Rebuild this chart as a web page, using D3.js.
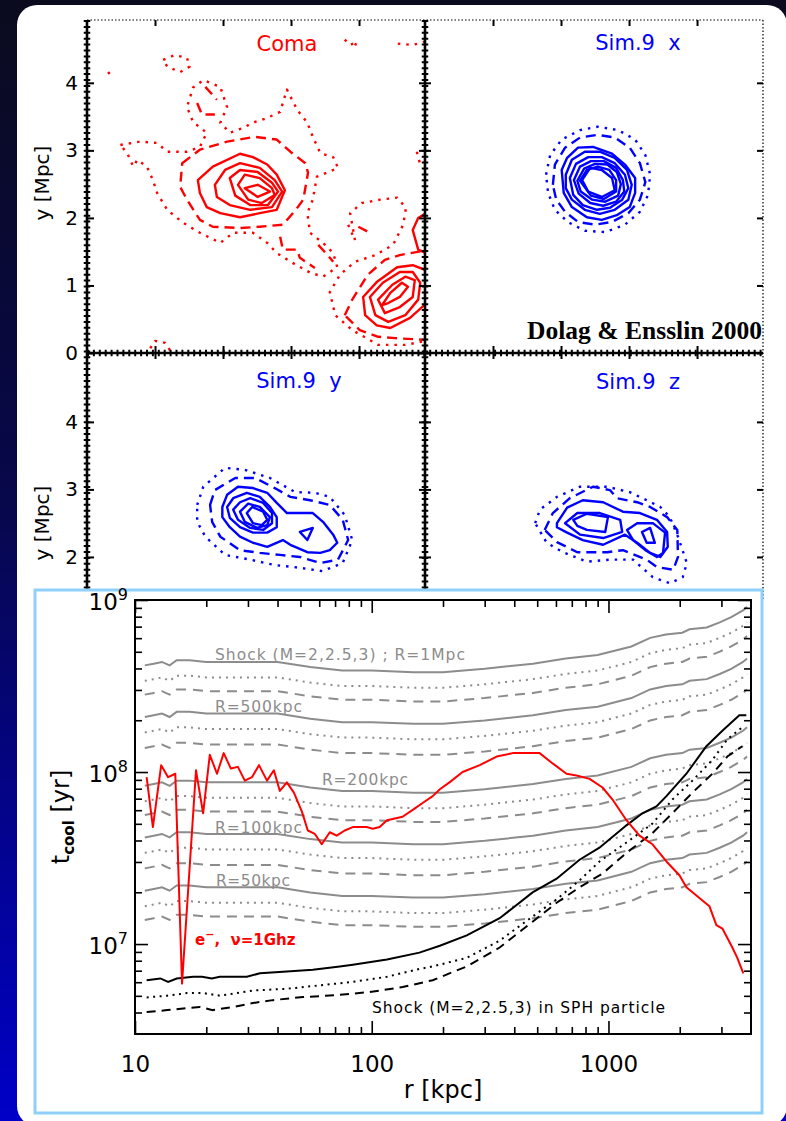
<!DOCTYPE html>
<html>
<head>
<meta charset="utf-8">
<title>Coma radio halo - cooling times</title>
<script src="https://d3js.org/d3.v7.min.js"></script>
<style>
  body { margin: 0; background: #000; }
  svg { display: block; font-family: "DejaVu Sans", sans-serif; }
</style>
</head>
<body>
<div id="chart"></div>
<script>
// ---------- contour maps, vertices in Mpc ----------
var comaSolid = [
  [[1.63,2.56],[1.85,2.76],[2.25,2.95],[2.44,2.90],[2.65,2.79],[2.79,2.64],[2.91,2.41],[2.79,2.12],[2.54,2.07],[2.25,2.01],[1.96,2.07],[1.76,2.16],[1.66,2.37]],
  [[1.88,2.49],[2.03,2.71],[2.25,2.81],[2.54,2.74],[2.76,2.56],[2.87,2.39],[2.72,2.16],[2.40,2.12],[2.10,2.19],[1.91,2.31]],
  [[2.10,2.59],[2.25,2.71],[2.51,2.68],[2.72,2.52],[2.81,2.39],[2.66,2.19],[2.40,2.19],[2.18,2.33]],
  [[2.22,2.49],[2.32,2.64],[2.54,2.59],[2.72,2.44],[2.76,2.34],[2.57,2.22],[2.37,2.27]],
  [[2.32,2.44],[2.51,2.49],[2.69,2.39],[2.51,2.31]],
  [[4.06,0.83],[4.26,1.05],[4.56,1.27],[4.79,1.30],[5.05,1.20],[5.05,0.79],[4.75,0.52],[4.46,0.37],[4.26,0.41],[4.09,0.56]],
  [[4.16,0.83],[4.35,1.04],[4.60,1.20],[4.79,1.20],[4.90,1.04],[4.87,0.79],[4.68,0.56],[4.43,0.46],[4.24,0.56]],
  [[4.28,0.79],[4.49,1.01],[4.68,1.13],[4.82,1.08],[4.79,0.83],[4.60,0.68],[4.38,0.59]],
  [[4.34,0.71],[4.46,0.89],[4.63,1.04],[4.72,0.98],[4.60,0.83],[4.43,0.74]],
  [[4.79,1.82],[4.87,2.00],[4.97,2.06],[5.05,2.06],[5.05,1.45],[4.87,1.53]]
];
var comaDashed = [
  [[1.40,2.81],[1.66,3.01],[2.06,3.13],[2.47,3.20],[2.79,3.16],[2.99,2.98],[3.21,2.81],[3.25,2.67],[3.18,2.27],[3.07,2.12],[2.88,1.90],[2.54,1.87],[2.25,1.85],[1.85,1.87],[1.66,1.97],[1.47,2.27],[1.37,2.46]],
  [[3.79,0.56],[3.90,0.79],[4.13,1.16],[4.38,1.38],[4.60,1.45],[5.05,1.53],[5.05,0.19],[4.53,0.22],[4.28,0.24],[4.01,0.34]]
];
var comaDashedOpen = [
  [[2.84,1.72],[2.88,1.53],[3.09,1.53],[3.13,1.41],[3.35,1.26]],
  [[3.40,1.60],[3.52,1.47],[3.62,1.35]],
  [[1.62,3.70],[1.69,3.53],[1.88,3.53]],
  [[1.74,3.94],[1.91,3.75]],
  [[3.99,1.87],[4.16,1.78]]
];
var comaDotted = [
  [[0.49,3.08],[0.78,3.13],[1.03,3.11],[1.18,2.98],[1.47,2.98],[1.66,3.05],[1.76,3.26],[1.56,3.42],[1.47,3.64],[1.56,3.93],[1.71,4.04],[1.96,3.94],[2.06,3.64],[1.96,3.41],[2.10,3.26],[2.29,3.33],[2.44,3.41],[2.65,3.48],[2.84,3.57],[2.94,3.90],[3.09,3.60],[3.24,3.41],[3.32,3.20],[3.43,2.96],[3.62,2.90],[3.69,2.74],[3.53,2.67],[3.38,2.61],[3.32,2.27],[3.24,2.07],[3.28,1.78],[3.47,1.63],[3.62,1.48],[3.68,1.27],[3.47,1.13],[3.28,1.19],[3.03,1.33],[2.79,1.48],[2.65,1.63],[2.44,1.78],[2.15,1.78],[1.96,1.63],[1.66,1.78],[1.41,1.93],[1.18,2.12],[1.03,2.37],[0.97,2.56],[0.88,2.76],[0.74,2.86],[0.68,2.76],[0.59,2.96]],
  [[1.12,4.34],[1.29,4.41],[1.47,4.37],[1.51,4.24],[1.37,4.16],[1.18,4.24]]
];
var comaDottedOpen = [
  [[3.84,1.90],[3.94,1.67],[3.87,2.07],[4.04,2.22],[4.31,2.27],[4.56,2.30],[4.69,2.15],[4.65,1.90],[4.50,1.60],[4.24,1.45],[3.94,1.35],[3.72,1.16],[3.57,0.90],[3.65,0.56],[3.90,0.34],[4.28,0.12],[4.68,0.12],[5.04,0.19]],
  [[3.79,4.64],[3.87,4.56],[3.97,4.61],[3.91,4.49]],
  [[4.57,4.58],[4.79,4.56],[4.97,4.61]],
  [[0.31,4.16],[0.38,4.07]],
  [[0.93,0.07],[1.00,0.18],[1.15,0.15],[1.22,0.04]],
  [[4.85,2.98],[4.90,2.79]]
];

var simXSolid = [
  [[2.01,2.71],[2.09,2.89],[2.25,3.04],[2.47,3.05],[2.75,2.95],[2.94,2.79],[3.09,2.59],[3.09,2.37],[3.01,2.16],[2.82,2.04],[2.60,1.97],[2.38,2.01],[2.16,2.16],[2.04,2.37]],
  [[2.07,2.64],[2.16,2.86],[2.35,2.98],[2.57,2.98],[2.79,2.89],[2.97,2.71],[3.04,2.49],[2.99,2.27],[2.79,2.12],[2.57,2.06],[2.35,2.12],[2.16,2.27],[2.07,2.44]],
  [[2.13,2.59],[2.22,2.80],[2.40,2.90],[2.60,2.90],[2.79,2.81],[2.94,2.64],[2.99,2.44],[2.90,2.27],[2.72,2.15],[2.53,2.12],[2.32,2.19],[2.18,2.34]],
  [[2.19,2.56],[2.28,2.76],[2.44,2.84],[2.63,2.84],[2.81,2.74],[2.91,2.56],[2.93,2.39],[2.81,2.24],[2.62,2.18],[2.43,2.22],[2.26,2.36]],
  [[2.24,2.55],[2.34,2.73],[2.50,2.80],[2.68,2.79],[2.82,2.68],[2.88,2.50],[2.84,2.33],[2.65,2.24],[2.46,2.27],[2.29,2.39]],
  [[2.28,2.55],[2.38,2.71],[2.54,2.76],[2.71,2.71],[2.81,2.56],[2.81,2.39],[2.63,2.28],[2.44,2.33]],
  [[2.31,2.56],[2.43,2.74],[2.60,2.71],[2.75,2.59],[2.79,2.41],[2.60,2.31],[2.40,2.39]]
];
var simXDashed = [
  [[1.88,2.49],[1.91,2.79],[2.06,3.04],[2.28,3.19],[2.54,3.23],[2.79,3.19],[3.01,3.04],[3.16,2.81],[3.24,2.53],[3.16,2.27],[2.99,2.07],[2.75,1.94],[2.50,1.90],[2.25,1.94],[2.06,2.09],[1.93,2.27]]
];
var simXDotted = [
  [[1.78,2.64],[1.84,2.93],[2.01,3.16],[2.28,3.30],[2.54,3.35],[2.84,3.30],[3.09,3.16],[3.24,2.93],[3.31,2.64],[3.28,2.34],[3.16,2.09],[2.94,1.90],[2.65,1.79],[2.35,1.81],[2.10,1.94],[1.91,2.12],[1.81,2.37]]
];

var simYSolid = [
  [[1.99,2.74],[2.06,2.92],[2.22,3.04],[2.44,3.02],[2.65,2.95],[2.79,2.80],[2.94,2.65],[3.13,2.65],[3.32,2.65],[3.47,2.52],[3.62,2.33],[3.68,2.21],[3.57,2.10],[3.43,2.06],[3.24,2.07],[2.99,2.18],[2.88,2.25],[2.65,2.15],[2.44,2.21],[2.25,2.30],[2.10,2.44],[1.99,2.59]],
  [[2.06,2.74],[2.15,2.87],[2.35,2.95],[2.54,2.89],[2.69,2.74],[2.79,2.59],[2.79,2.44],[2.65,2.36],[2.44,2.36],[2.25,2.44],[2.10,2.58]],
  [[2.15,2.70],[2.25,2.81],[2.40,2.87],[2.59,2.80],[2.72,2.65],[2.72,2.50],[2.59,2.40],[2.40,2.43],[2.22,2.55]],
  [[2.25,2.67],[2.37,2.79],[2.54,2.74],[2.69,2.59],[2.65,2.47],[2.50,2.43],[2.32,2.52]],
  [[2.35,2.65],[2.43,2.74],[2.59,2.67],[2.65,2.55],[2.57,2.47],[2.44,2.50]],
  [[3.13,2.37],[3.32,2.43],[3.24,2.25]]
];
var simYDashed = [
  [[1.81,2.77],[1.88,2.99],[2.18,3.17],[2.47,3.17],[2.76,3.02],[2.99,2.89],[3.28,2.84],[3.57,2.77],[3.76,2.55],[3.84,2.25],[3.69,1.96],[3.43,1.91],[3.13,2.00],[2.84,2.03],[2.54,2.06],[2.25,2.10],[1.96,2.30],[1.84,2.52]]
];
var simYDotted = [
  [[1.62,2.77],[1.71,3.04],[2.03,3.32],[2.32,3.29],[2.69,3.17],[3.06,2.96],[3.35,2.95],[3.57,2.89],[3.79,2.62],[3.90,2.25],[3.76,1.91],[3.46,1.79],[3.13,1.84],[2.76,1.88],[2.40,1.96],[2.03,2.03],[1.74,2.30],[1.62,2.52]]
];

var simZSolid = [
  [[1.94,2.50],[2.09,2.73],[2.32,2.84],[2.62,2.81],[2.91,2.67],[3.16,2.65],[3.41,2.55],[3.56,2.37],[3.57,2.15],[3.46,2.00],[3.31,2.06],[3.12,2.21],[2.94,2.33],[2.62,2.18],[2.32,2.25],[2.09,2.36],[1.94,2.44]],
  [[2.06,2.50],[2.24,2.65],[2.57,2.65],[2.87,2.55],[2.90,2.37],[2.62,2.28],[2.28,2.33]],
  [[2.18,2.55],[2.38,2.64],[2.69,2.59],[2.65,2.37],[2.38,2.40],[2.24,2.46]],
  [[2.97,2.40],[3.12,2.50],[3.35,2.50],[3.53,2.36],[3.50,2.06],[3.41,2.00],[3.24,2.10],[3.06,2.25]],
  [[3.19,2.37],[3.31,2.43],[3.38,2.21],[3.26,2.21]]
];
var simZDashed = [
  [[1.76,2.40],[1.88,2.65],[2.13,2.87],[2.47,3.04],[2.72,2.99],[2.82,2.87],[3.12,2.81],[3.31,2.74],[3.56,2.59],[3.71,2.40],[3.72,2.00],[3.65,1.81],[3.41,1.85],[3.26,1.96],[2.91,2.10],[2.68,2.07],[2.24,2.07],[1.94,2.22]]
];
var simZDotted = [
  [[1.62,2.50],[1.69,2.70],[1.94,2.89],[2.28,3.04],[2.68,3.04],[3.01,2.96],[3.26,2.84],[3.46,2.74],[3.60,2.59],[3.72,2.30],[3.85,1.91],[3.79,1.70],[3.60,1.61],[3.35,1.70],[3.06,1.96],[2.72,1.96],[2.38,1.93],[2.03,2.07],[1.79,2.21]]
];

// contour panel tick values and titles
var mapTicks = [0, 1, 2, 3, 4];
var mapTitles = ["Coma", "Sim.9  x", "Sim.9  y", "Sim.9  z"];

// ---------- cooling times : r in kpc, t values are log10(t_cool / yr) ----------
var rShock = [11,12,13,14,15,17,20,25,32,40,55,75,100,150,200,300,480,660,900,1250,1500,1750,2050,2200,2600,2950,3300,3700,3850];
var tR1000_M2  = [8.62,8.63,8.64,8.62,8.65,8.65,8.64,8.64,8.64,8.64,8.61,8.59,8.59,8.58,8.58,8.60,8.63,8.66,8.68,8.73,8.78,8.80,8.81,8.83,8.84,8.87,8.90,8.94,8.96];
var tR1000_M25 = [8.53,8.54,8.55,8.53,8.56,8.56,8.55,8.55,8.55,8.55,8.52,8.50,8.50,8.49,8.49,8.51,8.54,8.57,8.59,8.64,8.69,8.71,8.72,8.74,8.75,8.78,8.81,8.85,8.87];
var tR1000_M3  = [8.45,8.46,8.47,8.45,8.48,8.48,8.47,8.47,8.47,8.47,8.44,8.42,8.42,8.41,8.41,8.43,8.46,8.49,8.51,8.56,8.61,8.63,8.64,8.66,8.67,8.70,8.73,8.77,8.79];
var tR500_M2   = [8.32,8.33,8.34,8.32,8.35,8.35,8.34,8.34,8.34,8.34,8.31,8.29,8.29,8.28,8.28,8.30,8.33,8.36,8.38,8.43,8.48,8.50,8.51,8.53,8.54,8.57,8.60,8.64,8.66];
var tR500_M25  = [8.23,8.24,8.25,8.23,8.26,8.26,8.25,8.25,8.25,8.25,8.22,8.20,8.20,8.19,8.19,8.21,8.24,8.27,8.29,8.34,8.39,8.41,8.42,8.44,8.45,8.48,8.51,8.55,8.57];
var tR500_M3   = [8.14,8.15,8.16,8.14,8.17,8.17,8.16,8.16,8.16,8.16,8.13,8.11,8.11,8.10,8.10,8.12,8.15,8.18,8.20,8.25,8.30,8.32,8.33,8.35,8.36,8.39,8.42,8.46,8.48];
var tR200_M2   = [7.92,7.93,7.94,7.92,7.95,7.95,7.94,7.94,7.94,7.94,7.91,7.89,7.89,7.88,7.88,7.90,7.93,7.96,7.98,8.03,8.08,8.10,8.11,8.13,8.14,8.17,8.20,8.24,8.26];
var tR200_M25  = [7.83,7.84,7.85,7.83,7.86,7.86,7.85,7.85,7.85,7.85,7.82,7.80,7.80,7.79,7.79,7.81,7.84,7.87,7.89,7.94,7.99,8.01,8.02,8.04,8.05,8.08,8.11,8.15,8.17];
var tR200_M3   = [7.75,7.76,7.77,7.75,7.78,7.78,7.77,7.77,7.77,7.77,7.74,7.72,7.72,7.71,7.71,7.73,7.76,7.79,7.81,7.86,7.91,7.93,7.94,7.96,7.97,8.00,8.03,8.07,8.09];
var tR100_M2   = [7.62,7.63,7.64,7.62,7.65,7.65,7.64,7.64,7.64,7.64,7.61,7.59,7.59,7.58,7.58,7.60,7.63,7.66,7.68,7.73,7.78,7.80,7.81,7.83,7.84,7.87,7.90,7.94,7.96];
var tR100_M25  = [7.53,7.54,7.55,7.53,7.56,7.56,7.55,7.55,7.55,7.55,7.52,7.50,7.50,7.49,7.49,7.51,7.54,7.57,7.59,7.64,7.69,7.71,7.72,7.74,7.75,7.78,7.81,7.85,7.87];
var tR100_M3   = [7.44,7.45,7.46,7.44,7.47,7.47,7.46,7.46,7.46,7.46,7.43,7.41,7.41,7.40,7.40,7.42,7.45,7.48,7.50,7.55,7.60,7.62,7.63,7.65,7.66,7.69,7.72,7.76,7.78];
var tR50_M2    = [7.31,7.32,7.33,7.31,7.34,7.34,7.33,7.33,7.33,7.33,7.30,7.28,7.28,7.27,7.27,7.29,7.32,7.35,7.37,7.42,7.47,7.49,7.50,7.52,7.53,7.56,7.59,7.63,7.65];
var tR50_M25   = [7.22,7.23,7.24,7.22,7.25,7.25,7.24,7.24,7.24,7.24,7.21,7.19,7.19,7.18,7.18,7.20,7.23,7.26,7.28,7.33,7.38,7.40,7.41,7.43,7.44,7.47,7.50,7.54,7.56];
var tR50_M3    = [7.14,7.15,7.16,7.14,7.17,7.17,7.16,7.16,7.16,7.16,7.13,7.11,7.11,7.10,7.10,7.12,7.15,7.18,7.20,7.25,7.30,7.32,7.33,7.35,7.36,7.39,7.42,7.46,7.48];

// radio emitting electrons, nu = 1 GHz
var rRadio = [11.2,11.9,12.9,13.8,14.8,15.8,18.1,19.4,20.7,22.2,23.7,25.4,27.2,29.1,31.2,33.4,36.1,38.6,40.9,43.8,46.9,50.7,53.7,57.5,61.5,66.5,71.1,76.9,83.2,95.2,101,108,116,135,149,164,181,194,213,242,286,337,394,451,512,581,665,733,832,944,1040,1191,1352,1534,1757,1994,2134,2669,2856,3028,3336,3501,3712];
var tRadio = [7.97,7.68,8.04,7.97,7.99,6.77,8.01,7.76,8.10,7.99,8.11,8.02,8.03,7.95,7.97,8.04,7.95,8.01,7.89,7.94,7.88,7.77,7.66,7.64,7.58,7.65,7.63,7.66,7.68,7.68,7.67,7.68,7.72,7.74,7.78,7.82,7.86,7.90,7.94,8.00,8.04,8.09,8.11,8.11,8.11,8.05,7.99,7.98,7.96,7.91,7.84,7.72,7.63,7.58,7.48,7.40,7.33,7.22,7.11,7.09,6.98,6.92,6.83];

// shock inside an SPH particle, M = 2, 2.5, 3
var rSphM2  = [11.2,12.8,13.8,15.0,17.6,19.2,21.1,22.8,25.9,29.7,33.7,43.8,56.4,73.3,83.2,116,159,194,252,347,478,604,755,916,1191,1391,1594,1757,2134,2592,3028,3571,3822];
var tSphM2  = [6.79,6.80,6.78,6.80,6.81,6.81,6.80,6.81,6.81,6.81,6.83,6.84,6.85,6.87,6.88,6.91,6.95,6.99,7.05,7.15,7.30,7.38,7.49,7.56,7.69,7.76,7.80,7.86,7.99,8.15,8.24,8.33,8.33];
var rSphM25 = [11.2,13.7,16.6,19.4,22.8,31.5,43.8,60.3,83.2,116,159,181,252,347,478,604,755,916,1191,1534,1862,2262,2748,3177,3675];
var tSphM25 = [6.69,6.70,6.715,6.715,6.70,6.73,6.74,6.76,6.78,6.81,6.855,6.87,6.92,7.02,7.16,7.26,7.37,7.48,7.59,7.70,7.84,7.95,8.07,8.19,8.26];
var rSphM3  = [11.2,13.7,16.6,18.8,21.3,25.9,31.5,38.2,51.2,71.1,98.1,135,181,252,347,478,604,755,944,1191,1534,1862,2262,2748,3177,3675];
var tSphM3  = [6.605,6.616,6.628,6.634,6.616,6.634,6.657,6.674,6.692,6.703,6.721,6.75,6.79,6.87,6.98,7.13,7.24,7.33,7.41,7.53,7.645,7.76,7.88,7.99,8.09,8.15];

// axis ticks of the cooling time plot
var xMajor = [10, 100, 1000];
var xMinor = [20,30,40,50,60,70,80,90,200,300,400,500,600,700,800,900,2000,3000];
var yMajor = [1e7, 1e8, 1e9];
var yMinor = [4e6,5e6,6e6,7e6,8e6,9e6,2e7,3e7,4e7,5e7,6e7,7e7,8e7,9e7,2e8,3e8,4e8,5e8,6e8,7e8,8e8,9e8];

// ================= drawing =================
var W = 786, H = 1121;
var svg = d3.select("#chart").append("svg")
    .attr("width", W)
    .attr("height", H);
var defs = svg.append("defs");

// dark slide background and the white card
var grad = defs.append("linearGradient").attr("id", "bg")
    .attr("x1", 0).attr("y1", 0).attr("x2", 0).attr("y2", 1);
grad.append("stop").attr("offset", "0%").attr("stop-color", "#0b0b1e");
grad.append("stop").attr("offset", "45%").attr("stop-color", "#07074c");
grad.append("stop").attr("offset", "100%").attr("stop-color", "#0000c8");
svg.append("rect").attr("width", W).attr("height", H).attr("fill", "url(#bg)");
svg.append("rect")
    .attr("x", 17).attr("y", 5)
    .attr("width", 770).attr("height", 1121)
    .attr("rx", 20)
    .attr("fill", "#fff");

// ---------- the four contour maps ----------
var xL = d3.scaleLinear().domain([0, 4.97]).range([87, 425]);
var xR = d3.scaleLinear().domain([0, 4.97]).range([425, 763]);
var yTop = d3.scaleLinear().domain([0, 4.93]).range([353, 20]);
var yBot = d3.scaleLinear().domain([0, 5.02]).range([692, 353]);

var panels = [
  {x: xL, y: yTop, color: "#ff0000", solid: comaSolid, dashed: comaDashed, dashedOpen: comaDashedOpen, dotted: comaDotted, dottedOpen: comaDottedOpen, tx: 287, ty: 51},
  {x: xR, y: yTop, color: "#0000ff", solid: simXSolid, dashed: simXDashed, dashedOpen: [], dotted: simXDotted, dottedOpen: [], tx: 638, ty: 50},
  {x: xL, y: yBot, color: "#0000ff", solid: simYSolid, dashed: simYDashed, dashedOpen: [], dotted: simYDotted, dottedOpen: [], tx: 299, ty: 388},
  {x: xR, y: yBot, color: "#0000ff", solid: simZSolid, dashed: simZDashed, dashedOpen: [], dotted: simZDotted, dottedOpen: [], tx: 638, ty: 389}
];

var maps = svg.append("g");

function drawSet(g, p, list, closed, dash) {
  var gen = d3.line()
      .x(function(d) { return p.x(d[0]); })
      .y(function(d) { return p.y(d[1]); })
      .curve(closed ? d3.curveLinearClosed : d3.curveLinear);
  g.selectAll(null)
    .data(list)
    .enter()
    .append("path")
      .attr("d", gen)
      .attr("fill", "none")
      .attr("stroke", p.color)
      .attr("stroke-width", 2.4)
      .attr("stroke-linejoin", "round")
      .attr("stroke-dasharray", dash);
}

panels.forEach(function(p, i) {
  var x0 = p.x.range()[0], x1 = p.x.range()[1];
  var y0 = p.y.range()[1], y1 = p.y.range()[0];
  defs.append("clipPath").attr("id", "clip" + i)
    .append("rect")
      .attr("x", x0).attr("y", y0)
      .attr("width", x1 - x0).attr("height", y1 - y0);
  var g = maps.append("g").attr("clip-path", "url(#clip" + i + ")");
  drawSet(g, p, p.dotted, true, "2.5,6");
  drawSet(g, p, p.dottedOpen, false, "2.5,6");
  drawSet(g, p, p.dashed, true, "10,6");
  drawSet(g, p, p.dashedOpen, false, "10,6");
  drawSet(g, p, p.solid, true, null);

  maps.append("text")
      .attr("x", p.tx).attr("y", p.ty)
      .attr("text-anchor", "middle")
      .style("white-space", "pre")
      .attr("font-size", 21)
      .attr("fill", p.color)
      .text(mapTitles[i]);
});

maps.append("text")
    .attr("x", 762).attr("y", 339)
    .attr("text-anchor", "end")
    .attr("font-family", "'Liberation Serif', 'DejaVu Serif', serif")
    .attr("font-weight", "bold")
    .attr("font-size", 25.5)
    .attr("textLength", 235)
    .text("Dolag & Ensslin 2000");

// frames: thick "ladder" axes inside, thin dotted outer edges
var frame = svg.append("g");
function ladder(x1, y1, x2, y2) {
  frame.append("line")
      .attr("x1", x1).attr("y1", y1).attr("x2", x2).attr("y2", y2)
      .attr("stroke", "#000").attr("stroke-width", 2.6);
  frame.append("line")
      .attr("x1", x1).attr("y1", y1).attr("x2", x2).attr("y2", y2)
      .attr("stroke", "#000").attr("stroke-width", 6.5)
      .attr("stroke-dasharray", "2,3.9");
}
function dotted(x1, y1, x2, y2) {
  frame.append("line")
      .attr("x1", x1).attr("y1", y1).attr("x2", x2).attr("y2", y2)
      .attr("stroke", "#000").attr("stroke-width", 1.2)
      .attr("stroke-dasharray", "1.5,2");
}
dotted(87, 20, 763, 20);
dotted(763, 20, 763, 600);
ladder(87, 20, 87, 600);
ladder(425, 20, 425, 600);
ladder(87, 353, 763, 353);

function noDomain(g) { g.select(".domain").remove(); g.selectAll(".tick line").attr("stroke-width", 2); }

[yTop, yBot].forEach(function(ys) {
  // left axis with labels
  frame.append("g")
      .attr("transform", "translate(87,0)")
      .call(d3.axisLeft(ys).tickValues(mapTicks).tickSize(-7).tickPadding(9).tickFormat(d3.format("d")))
      .call(noDomain)
      .call(function(g) {
        g.selectAll("text")
          .attr("font-size", 20)
          .attr("font-family", "'DejaVu Sans', sans-serif")
          .attr("fill", "#000");
      });
  // middle axis, ticks on both sides
  frame.append("g").attr("transform", "translate(425,0)")
      .call(d3.axisLeft(ys).tickValues(mapTicks).tickSize(6).tickFormat(""))
      .call(noDomain);
  frame.append("g").attr("transform", "translate(425,0)")
      .call(d3.axisRight(ys).tickValues(mapTicks).tickSize(6).tickFormat(""))
      .call(noDomain);
  // right edge
  frame.append("g").attr("transform", "translate(763,0)")
      .call(d3.axisRight(ys).tickValues(mapTicks).tickSize(-6).tickFormat(""))
      .call(noDomain);
});

[xL, xR].forEach(function(xs) {
  frame.append("g").attr("transform", "translate(0,20)")
      .call(d3.axisTop(xs).tickValues([1, 2, 3, 4]).tickSize(-6).tickFormat(""))
      .call(noDomain);
  frame.append("g").attr("transform", "translate(0,353)")
      .call(d3.axisTop(xs).tickValues([1, 2, 3, 4]).tickSize(7).tickFormat(""))
      .call(noDomain);
  frame.append("g").attr("transform", "translate(0,353)")
      .call(d3.axisBottom(xs).tickValues([1, 2, 3, 4]).tickSize(6).tickFormat(""))
      .call(noDomain);
});

[183, 523].forEach(function(cy) {
  frame.append("text")
      .attr("transform", "translate(49," + cy + ") rotate(-90)")
      .attr("text-anchor", "middle")
      .attr("font-size", 20)
      .text("y [Mpc]");
});

// ---------- cooling time plot ----------
svg.append("rect")
    .attr("x", 35).attr("y", 590)
    .attr("width", 727).attr("height", 523)
    .attr("fill", "#fff")
    .attr("stroke", "#8fd0fa")
    .attr("stroke-width", 3);

var xB = d3.scaleLog().domain([10, 4000]).range([135, 751]);
var yB = d3.scaleLog().domain([3e6, 1e9]).range([1034, 600]);
var plot = svg.append("g");

var grey = "#8c8c8c";
var machDash = [null, "2,5", "10,7"];
var greyCurves = [
  [tR1000_M2, tR1000_M25, tR1000_M3],
  [tR500_M2, tR500_M25, tR500_M3],
  [tR200_M2, tR200_M25, tR200_M3],
  [tR100_M2, tR100_M25, tR100_M3],
  [tR50_M2, tR50_M25, tR50_M3]
];
var greyLine = d3.line()
    .x(function(d, i) { return xB(rShock[i]); })
    .y(function(d) { return yB(Math.pow(10, d)); });

greyCurves.forEach(function(group) {
  group.forEach(function(t, m) {
    plot.append("path")
        .datum(t)
        .attr("d", greyLine)
        .attr("fill", "none")
        .attr("stroke", grey)
        .attr("stroke-width", 2)
        .attr("stroke-dasharray", machDash[m]);
  });
});

function xyLine(r) {
  return d3.line()
      .x(function(d, i) { return xB(r[i]); })
      .y(function(d) { return yB(Math.pow(10, d)); });
}
var sph = [[rSphM2, tSphM2], [rSphM25, tSphM25], [rSphM3, tSphM3]];
var sphDash = [null, "2,4.5", "9,6"];
sph.forEach(function(s, m) {
  plot.append("path")
      .datum(s[1])
      .attr("d", xyLine(s[0]))
      .attr("fill", "none")
      .attr("stroke", "#000")
      .attr("stroke-width", 2)
      .attr("stroke-dasharray", sphDash[m]);
});

plot.append("path")
    .datum(tRadio)
    .attr("d", xyLine(rRadio))
    .attr("fill", "none")
    .attr("stroke", "#ff0000")
    .attr("stroke-width", 2)
    .attr("stroke-linejoin", "round");

// axes, IDL style: ticks point inward on all four sides
function cleanAxis(g) { g.select(".domain").remove(); g.selectAll(".tick line").attr("stroke", "#000").attr("stroke-width", 1.6); }

plot.append("g").attr("transform", "translate(0,1034)")
    .call(d3.axisBottom(xB).tickValues(xMajor).tickSize(-13).tickSizeOuter(0).tickPadding(22).tickFormat(function(d) { return d; }))
    .call(cleanAxis)
    .call(function(g) { g.selectAll("text").attr("font-size", 23).attr("font-family", "'DejaVu Sans', sans-serif").attr("fill", "#000"); });
plot.append("g").attr("transform", "translate(0,1034)")
    .call(d3.axisBottom(xB).tickValues(xMinor).tickSize(-7).tickFormat(""))
    .call(cleanAxis);
plot.append("g").attr("transform", "translate(0,600)")
    .call(d3.axisTop(xB).tickValues(xMajor).tickSize(-13).tickFormat(""))
    .call(cleanAxis);
plot.append("g").attr("transform", "translate(0,600)")
    .call(d3.axisTop(xB).tickValues(xMinor).tickSize(-7).tickFormat(""))
    .call(cleanAxis);
plot.append("g").attr("transform", "translate(135,0)")
    .call(d3.axisLeft(yB).tickValues(yMajor).tickSize(-13).tickFormat(""))
    .call(cleanAxis);
plot.append("g").attr("transform", "translate(135,0)")
    .call(d3.axisLeft(yB).tickValues(yMinor).tickSize(-7).tickFormat(""))
    .call(cleanAxis);
plot.append("g").attr("transform", "translate(751,0)")
    .call(d3.axisRight(yB).tickValues(yMajor).tickSize(-13).tickFormat(""))
    .call(cleanAxis);
plot.append("g").attr("transform", "translate(751,0)")
    .call(d3.axisRight(yB).tickValues(yMinor).tickSize(-7).tickFormat(""))
    .call(cleanAxis);

plot.append("rect")
    .attr("x", 135).attr("y", 600)
    .attr("width", 616).attr("height", 434)
    .attr("fill", "none")
    .attr("stroke", "#000")
    .attr("stroke-width", 2);

// 10^n labels on the y axis
var yLab = plot.selectAll(".ylab")
  .data(yMajor)
  .enter()
  .append("text")
    .attr("class", "ylab")
    .attr("x", 128)
    .attr("y", function(d) { return yB(d) + 10; })
    .attr("text-anchor", "end")
    .attr("font-size", 23);
yLab.append("tspan").text("10");
yLab.append("tspan")
    .attr("dy", -10)
    .attr("font-size", 16)
    .text(function(d) { return Math.round(Math.log10(d)); });

// axis titles
plot.append("text")
    .attr("x", 443).attr("y", 1098)
    .attr("text-anchor", "middle")
    .attr("font-size", 24)
    .text("r [kpc]");
var yt = plot.append("text")
    .attr("transform", "translate(69,817) rotate(-90)")
    .attr("text-anchor", "middle")
    .attr("font-size", 24);
yt.append("tspan").text("t");
yt.append("tspan").attr("dy", 5).attr("font-size", 15).attr("font-weight", "bold").text("cool");
yt.append("tspan").attr("dy", -5).style("white-space", "pre").text(" [yr]");

// curve annotations
var notes = [
  {t: "Shock (M=2,2.5,3) ; R=1Mpc", x: 215, y: 660, w: 250},
  {t: "R=500kpc", x: 215, y: 712, w: 87},
  {t: "R=200kpc", x: 322, y: 785, w: 86},
  {t: "R=100kpc", x: 215, y: 833, w: 87},
  {t: "R=50kpc", x: 216, y: 886, w: 74}
];
plot.selectAll(".note")
  .data(notes)
  .enter()
  .append("text")
    .attr("x", function(d) { return d.x; })
    .attr("y", function(d) { return d.y; })
    .attr("textLength", function(d) { return d.w; })
    .attr("font-size", 15.5)
    .attr("fill", grey)
    .text(function(d) { return d.t; });

plot.append("text")
    .attr("x", 372).attr("y", 1013)
    .attr("textLength", 293)
    .attr("font-size", 15.5)
    .attr("fill", "#000")
    .text("Shock (M=2,2.5,3) in SPH particle");

var eLab = plot.append("text")
    .attr("x", 195).attr("y", 945)
    .attr("font-size", 15)
    .attr("font-weight", "bold")
    .attr("fill", "#ff0000");
eLab.append("tspan").text("e");
eLab.append("tspan").attr("dy", -7).attr("font-size", 11).text("\u2212");
eLab.append("tspan").attr("dy", 7).style("white-space", "pre").text(",  \u03bd=1Ghz");
</script>
</body>
</html>
